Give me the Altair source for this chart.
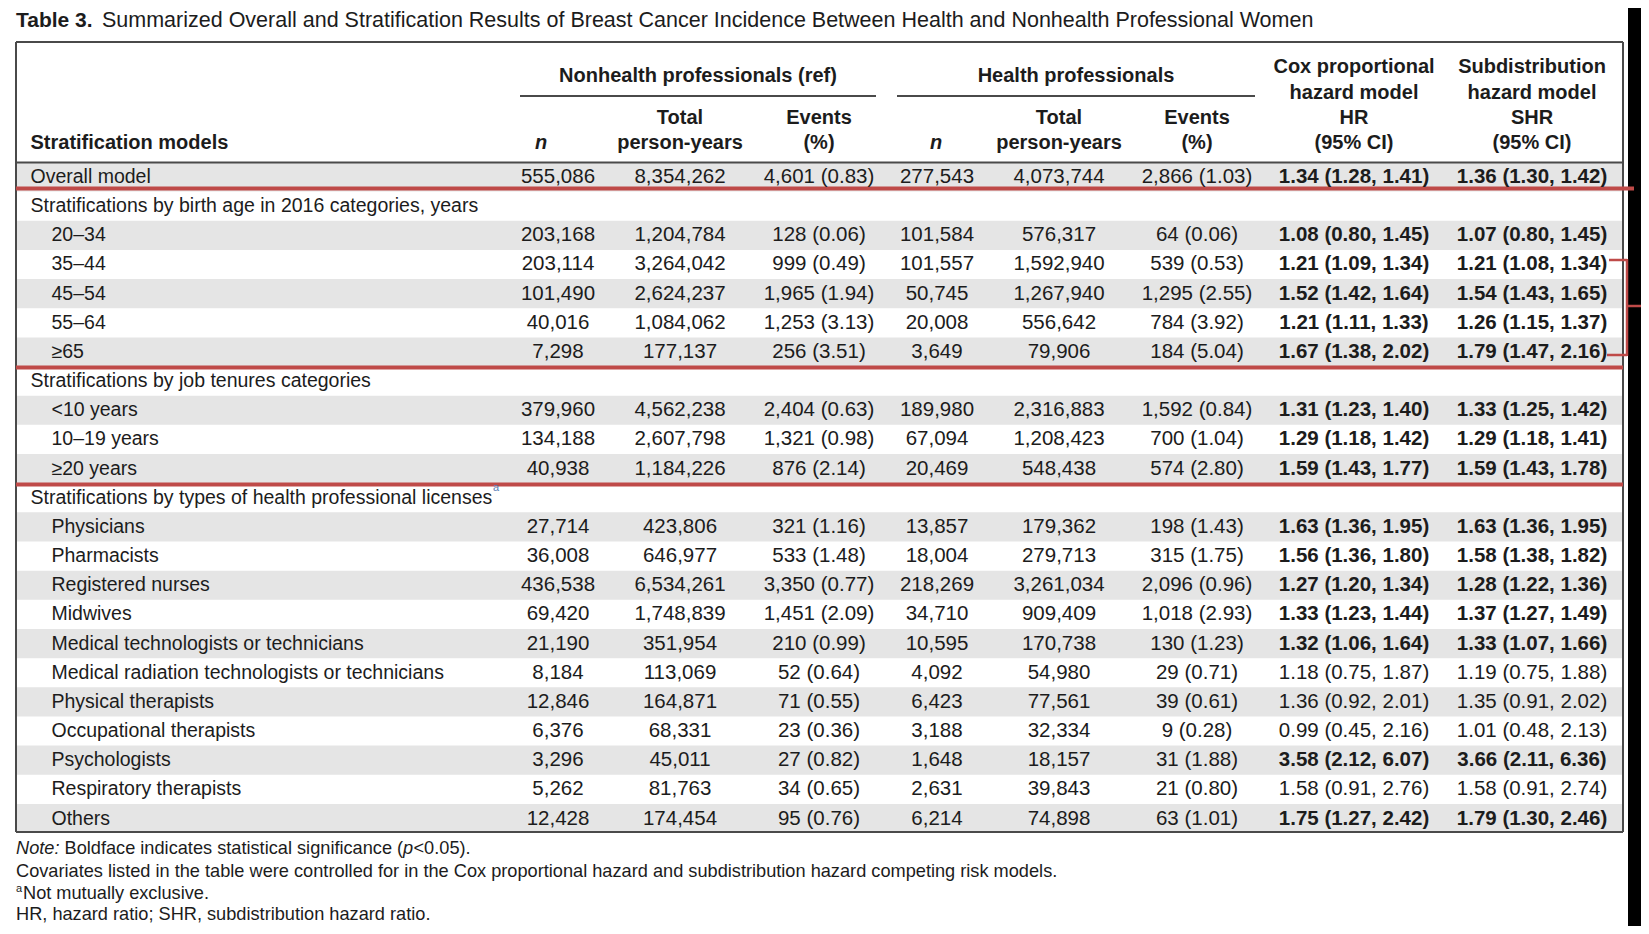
import altair as alt
import pandas as pd

# ---------------- data ----------------
TITLE_BOLD = "Table 3."
TITLE_REST = ("Summarized Overall and Stratification Results of Breast Cancer Incidence "
              "Between Health and Nonhealth Professional Women")

LABELS = ["Overall model",
          "Stratifications by birth age in 2016 categories, years",
          "20–34", "35–44", "45–54", "55–64", "≥65",
          "Stratifications by job tenures categories",
          "<10 years", "10–19 years", "≥20 years",
          "Stratifications by types of health professional licenses",
          "Physicians", "Pharmacists", "Registered nurses", "Midwives",
          "Medical technologists or technicians",
          "Medical radiation technologists or technicians",
          "Physical therapists", "Occupational therapists", "Psychologists",
          "Respiratory therapists", "Others"]
TOP_LEVEL = [True, True, False, False, False, False, False, True, False, False, False, True,
             False, False, False, False, False, False, False, False, False, False, False]

NH_N = ["555,086", None, "203,168", "203,114", "101,490", "40,016", "7,298", None,
        "379,960", "134,188", "40,938", None, "27,714", "36,008", "436,538", "69,420",
        "21,190", "8,184", "12,846", "6,376", "3,296", "5,262", "12,428"]
NH_PY = ["8,354,262", None, "1,204,784", "3,264,042", "2,624,237", "1,084,062", "177,137", None,
         "4,562,238", "2,607,798", "1,184,226", None, "423,806", "646,977", "6,534,261",
         "1,748,839", "351,954", "113,069", "164,871", "68,331", "45,011", "81,763", "174,454"]
NH_EV = ["4,601 (0.83)", None, "128 (0.06)", "999 (0.49)", "1,965 (1.94)", "1,253 (3.13)",
         "256 (3.51)", None, "2,404 (0.63)", "1,321 (0.98)", "876 (2.14)", None, "321 (1.16)",
         "533 (1.48)", "3,350 (0.77)", "1,451 (2.09)", "210 (0.99)", "52 (0.64)", "71 (0.55)",
         "23 (0.36)", "27 (0.82)", "34 (0.65)", "95 (0.76)"]
H_N = ["277,543", None, "101,584", "101,557", "50,745", "20,008", "3,649", None,
       "189,980", "67,094", "20,469", None, "13,857", "18,004", "218,269", "34,710",
       "10,595", "4,092", "6,423", "3,188", "1,648", "2,631", "6,214"]
H_PY = ["4,073,744", None, "576,317", "1,592,940", "1,267,940", "556,642", "79,906", None,
        "2,316,883", "1,208,423", "548,438", None, "179,362", "279,713", "3,261,034",
        "909,409", "170,738", "54,980", "77,561", "32,334", "18,157", "39,843", "74,898"]
H_EV = ["2,866 (1.03)", None, "64 (0.06)", "539 (0.53)", "1,295 (2.55)", "784 (3.92)",
        "184 (5.04)", None, "1,592 (0.84)", "700 (1.04)", "574 (2.80)", None, "198 (1.43)",
        "315 (1.75)", "2,096 (0.96)", "1,018 (2.93)", "130 (1.23)", "29 (0.71)", "39 (0.61)",
        "9 (0.28)", "31 (1.88)", "21 (0.80)", "63 (1.01)"]
HR = ["1.34 (1.28, 1.41)", None, "1.08 (0.80, 1.45)", "1.21 (1.09, 1.34)", "1.52 (1.42, 1.64)",
      "1.21 (1.11, 1.33)", "1.67 (1.38, 2.02)", None, "1.31 (1.23, 1.40)", "1.29 (1.18, 1.42)",
      "1.59 (1.43, 1.77)", None, "1.63 (1.36, 1.95)", "1.56 (1.36, 1.80)", "1.27 (1.20, 1.34)",
      "1.33 (1.23, 1.44)", "1.32 (1.06, 1.64)", "1.18 (0.75, 1.87)", "1.36 (0.92, 2.01)",
      "0.99 (0.45, 2.16)", "3.58 (2.12, 6.07)", "1.58 (0.91, 2.76)", "1.75 (1.27, 2.42)"]
SHR = ["1.36 (1.30, 1.42)", None, "1.07 (0.80, 1.45)", "1.21 (1.08, 1.34)", "1.54 (1.43, 1.65)",
       "1.26 (1.15, 1.37)", "1.79 (1.47, 2.16)", None, "1.33 (1.25, 1.42)", "1.29 (1.18, 1.41)",
       "1.59 (1.43, 1.78)", None, "1.63 (1.36, 1.95)", "1.58 (1.38, 1.82)", "1.28 (1.22, 1.36)",
       "1.37 (1.27, 1.49)", "1.33 (1.07, 1.66)", "1.19 (0.75, 1.88)", "1.35 (0.91, 2.02)",
       "1.01 (0.48, 2.13)", "3.66 (2.11, 6.36)", "1.58 (0.91, 2.74)", "1.79 (1.30, 2.46)"]
SIGNIFICANT = [True, None, True, True, True, True, True, None, True, True, True, None,
               True, True, True, True, True, False, False, False, True, False, True]

GROUP_HEADERS = ["Nonhealth professionals (ref)", "Health professionals"]
COX_HEADER = ["Cox proportional", "hazard model", "HR", "(95% CI)"]
SUB_HEADER = ["Subdistribution", "hazard model", "SHR", "(95% CI)"]
SUB_COLS = [("Total", "person-years"), ("Events", "(%)")]
STUB_HEADER = "Stratification models"
NOTE_1 = ["Note:", "Boldface indicates statistical significance (", "p", "<0.05)."]
NOTE_2 = ("Covariates listed in the table were controlled for in the Cox proportional hazard "
          "and subdistribution hazard competing risk models.")
NOTE_3 = "Not mutually exclusive."
NOTE_4 = "HR, hazard ratio; SHR, subdistribution hazard ratio."

# ---------------- layout ----------------
W, H = 1633, 918            # plot area (page minus the 8px margins)
ROW0, PITCH = 177.0, 29.16  # page-pixel centre of first row and row pitch
FONT = "Liberation Sans, Arial, sans-serif"
INK = "#1c1c1c"
RED = "#bf4a48"
GRID = "#4a4a4a"
BAND = "#e5e5e5"


def R(py):
    """page pixel y -> row units"""
    return (py - ROW0) / PITCH


xs = alt.Scale(domain=[8, 8 + W], zero=False, nice=False)
ys = alt.Scale(domain=[R(8), R(8 + H)], zero=False, nice=False, reverse=True)


def X(f):
    return alt.X(f, type="quantitative", scale=xs, axis=None)


def Y(f):
    return alt.Y(f, type="quantitative", scale=ys, axis=None)


COL_X = {"nh_n": 558, "nh_py": 680, "nh_ev": 819, "h_n": 937, "h_py": 1059,
         "h_ev": 1197, "hr": 1354, "shr": 1532}
COL_DATA = {"nh_n": NH_N, "nh_py": NH_PY, "nh_ev": NH_EV, "h_n": H_N, "h_py": H_PY,
            "h_ev": H_EV, "hr": HR, "shr": SHR}

# ---------------- tables for marks ----------------
lab_df = pd.DataFrame([{"x": 30.5 if top else 51.5, "row": i, "text": lab}
                       for i, (lab, top) in enumerate(zip(LABELS, TOP_LEVEL))])

cell_rows = []
for key, vals in COL_DATA.items():
    for i, v in enumerate(vals):
        if v is None:
            continue
        bold = key in ("hr", "shr") and bool(SIGNIFICANT[i])
        cell_rows.append({"x": COL_X[key], "row": i, "text": v, "bold": bold})
cell_df = pd.DataFrame(cell_rows)

band_df = pd.DataFrame([{"x": 16, "x2": 1623, "y": i - 0.5, "y2": i + 0.5}
                        for i in range(len(LABELS)) if i % 2 == 0])

black_df = pd.DataFrame([{"x": 1628, "x2": 8 + W, "y": R(8), "y2": R(8 + H)}])

rules = [
    # frame
    (16, 1623, 42, 42, GRID, 2), (16, 16, 42, 832, GRID, 2),
    (1623, 1623, 42, 832, GRID, 2), (16, 1623, 832, 832, GRID, 2),
    # spanner underlines
    (520, 876, 96, 96, GRID, 2), (897, 1255, 96, 96, GRID, 2),
    # header bottom
    (16, 1623, 162.5, 162.5, GRID, 2),
    # red section separators
    (16, 1634, 188.5, 188.5, RED, 4), (16, 1623, 367.5, 367.5, RED, 4),
    (16, 1623, 484.5, 484.5, RED, 4),
    # bracket
    (1609, 1627, 260, 260, RED, 2.5), (1627, 1627, 259, 356, RED, 2.5),
    (1607, 1627, 355, 355, RED, 2.5), (1627, 1648, 306, 306, RED, 2.5),
]
rule_df = pd.DataFrame([{"x": a, "x2": b, "y": R(c), "y2": R(d), "c": col, "w": w}
                        for a, b, c, d, col, w in rules])

hdr_rows = [(GROUP_HEADERS[0], 698, 76), (GROUP_HEADERS[1], 1076, 76)]
for k, yy in enumerate([67.3, 92.5, 117.8, 143]):
    hdr_rows.append((COX_HEADER[k], 1354, yy))
    hdr_rows.append((SUB_HEADER[k], 1532, yy))
for cx, (a, b) in zip([680, 819], SUB_COLS):
    hdr_rows += [(a, cx, 117.8), (b, cx, 143)]
for cx, (a, b) in zip([1059, 1197], SUB_COLS):
    hdr_rows += [(a, cx, 117.8), (b, cx, 143)]
hdr_df = pd.DataFrame([{"x": a, "row": R(c), "text": t} for t, a, c in hdr_rows])
n_df = pd.DataFrame([{"x": 541, "row": R(143), "text": "n"},
                     {"x": 936, "row": R(143), "text": "n"}])
stub_df = pd.DataFrame([{"x": 30.5, "row": R(143), "text": STUB_HEADER}])

title_b = pd.DataFrame([{"x": 16, "row": R(21), "text": TITLE_BOLD}])
title_r = pd.DataFrame([{"x": 102, "row": R(21), "text": TITLE_REST}])

note_reg = pd.DataFrame([
    {"x": 64.5, "row": R(849), "text": NOTE_1[1]},
    {"x": 413.5, "row": R(849), "text": NOTE_1[3]},
    {"x": 16, "row": R(872), "text": NOTE_2},
    {"x": 23, "row": R(894), "text": NOTE_3},
    {"x": 16, "row": R(915), "text": NOTE_4},
])
note_it = pd.DataFrame([
    {"x": 16, "row": R(849), "text": NOTE_1[0]},
    {"x": 403, "row": R(849), "text": NOTE_1[2]},
])
sup_df = pd.DataFrame([
    {"x": 493, "row": R(488), "text": "a", "c": "#5a7fb8"},
    {"x": 16, "row": R(889), "text": "a", "c": INK},
])

# ---------------- layers ----------------
bands = alt.Chart(band_df).mark_rect(color=BAND).encode(X("x"), x2="x2", y=Y("y"), y2="y2")
black = alt.Chart(black_df).mark_rect(color="#000000").encode(X("x"), x2="x2", y=Y("y"), y2="y2")
lines = alt.Chart(rule_df).mark_rule().encode(
    X("x"), x2="x2", y=Y("y"), y2="y2",
    color=alt.Color("c:N", scale=None),
    strokeWidth=alt.StrokeWidth("w:Q", scale=None))


def txt(df, size, align="left", weight="normal", style="normal", color=INK):
    return alt.Chart(df).mark_text(
        font=FONT, fontSize=size, align=align, baseline="middle",
        fontWeight=weight, fontStyle=style, color=color,
    ).encode(X("x"), Y("row"), text="text:N")


labels = txt(lab_df, 19.5)
cells_reg = txt(cell_df[~cell_df["bold"]], 20.5, align="center")
cells_bold = txt(cell_df[cell_df["bold"]], 20.5, align="center", weight="bold")
headers = txt(hdr_df, 20, align="center", weight="bold")
n_hdr = txt(n_df, 20, align="center", weight="bold", style="italic")
stub = txt(stub_df, 20, weight="bold")
t_bold = txt(title_b, 21, weight="bold")
t_reg = txt(title_r, 21.5)
notes_r = txt(note_reg, 18.2)
notes_i = txt(note_it, 18.2, style="italic")
sups = alt.Chart(sup_df).mark_text(font=FONT, fontSize=11, align="left", baseline="middle").encode(
    X("x"), Y("row"), text="text:N", color=alt.Color("c:N", scale=None))

chart = alt.layer(
    bands, black, lines, labels, cells_reg, cells_bold, headers, n_hdr, stub,
    t_bold, t_reg, notes_r, notes_i, sups,
).properties(
    width=W, height=H, padding=0, autosize=alt.AutoSizeParams(type="none"),
    background="white",
).configure_view(strokeWidth=0)

chart.save("out.html", embed_options={"renderer": "svg", "actions": False})
